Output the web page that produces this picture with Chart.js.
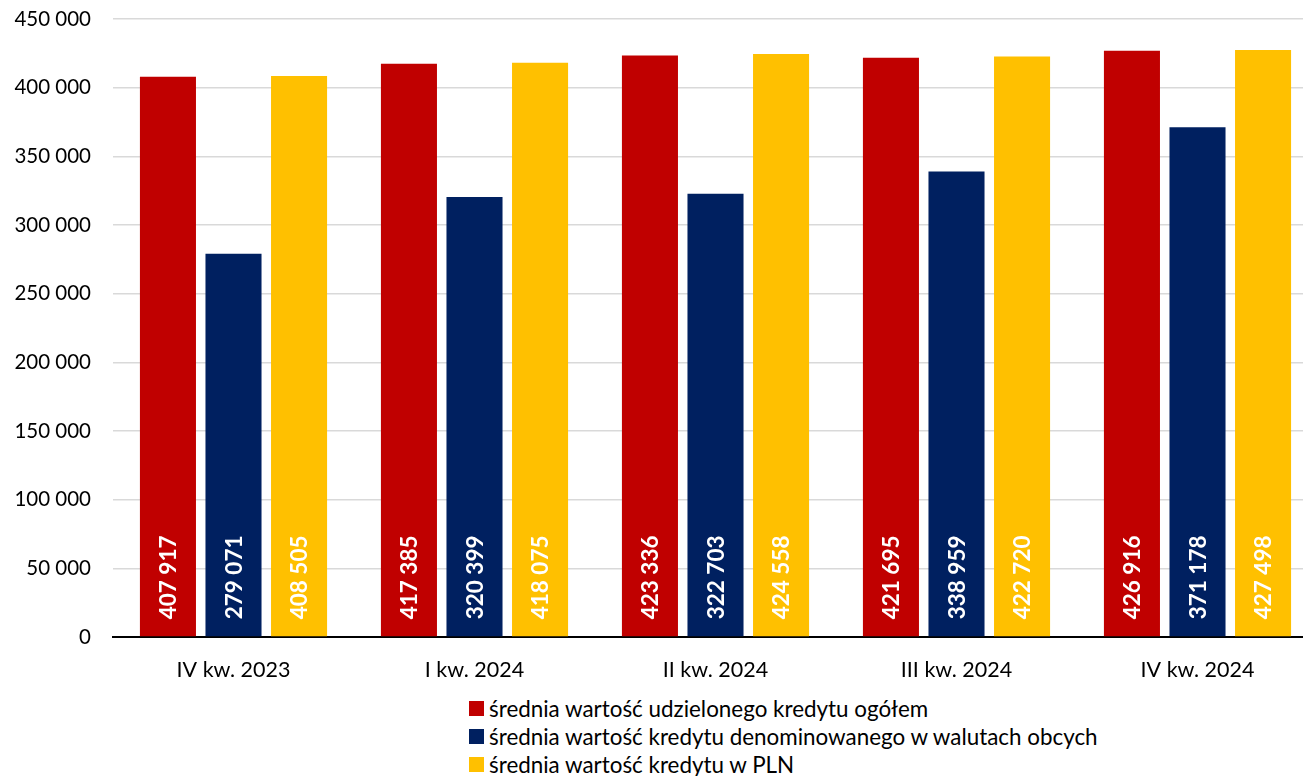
<!DOCTYPE html>
<html>
<head>
<meta charset="utf-8">
<script src="https://cdn.jsdelivr.net/npm/chart.js@4"></script>
<style>
  html, body { margin: 0; padding: 0; background: #fff; overflow: hidden; width: 1303px; height: 776px; }
  #wrap { position: relative; width: 1318px; height: 690px; }
  #legend { position: absolute; left: 469px; top: 694px; font-family: Lato, "Open Sans", sans-serif; font-size: 22.4px; color: #000; }
  #legend div { display: flex; align-items: center; height: 28px; white-space: nowrap; }
  #legend span.box { display: inline-block; width: 15px; height: 15px; margin-right: 5px; }
</style>
</head>
<body>
<div id="wrap"><canvas id="c"></canvas></div>
<div id="legend"></div>
<script>
const categories = ["IV kw. 2023", "I kw. 2024", "II kw. 2024", "III kw. 2024", "IV kw. 2024"];
const seriesNames = [
  "średnia wartość udzielonego kredytu ogółem",
  "średnia wartość kredytu denominowanego w walutach obcych",
  "średnia wartość kredytu w PLN"
];
const totalValues = [407917, 417385, 423336, 421695, 426916];
const foreignValues = [279071, 320399, 322703, 338959, 371178];
const plnValues = [408505, 418075, 424558, 422720, 427498];
const seriesColors = ["#C00000", "#002060", "#FFC000"];
const yMin = 0, yMax = 450000, yStep = 50000;

const fmt = v => String(Math.round(v)).replace(/\B(?=(\d{3})+(?!\d))/g, " ");
const FONT = "Lato, 'Open Sans', sans-serif";

const barLabels = {
  id: "barLabels",
  afterDatasetsDraw(chart) {
    const ctx = chart.ctx;
    ctx.save();
    ctx.fillStyle = "#fff";
    ctx.font = "bold 22.5px " + FONT;
    ctx.textAlign = "left";
    ctx.textBaseline = "middle";
    chart.data.datasets.forEach((ds, i) => {
      chart.getDatasetMeta(i).data.forEach((bar, j) => {
        ctx.save();
        ctx.translate(bar.x, bar.base - 17);
        ctx.rotate(-Math.PI / 2);
        ctx.fillText(fmt(ds.data[j]), 0, 1);
        ctx.restore();
      });
    });
    ctx.restore();
  }
};

const datasets = [totalValues, foreignValues, plnValues].map((d, i) => ({
  label: seriesNames[i],
  data: d,
  backgroundColor: seriesColors[i],
  borderWidth: 0,
  categoryPercentage: 0.816,
  barPercentage: 0.855
}));

new Chart(document.getElementById("c"), {
  type: "bar",
  data: { labels: categories, datasets },
  plugins: [barLabels],
  options: {
    responsive: true,
    maintainAspectRatio: false,
    animation: false,
    layout: { padding: { top: 19, right: 0, left: 0, bottom: 0 } },
    plugins: { legend: { display: false }, tooltip: { enabled: false } },
    scales: {
      x: {
        grid: { display: false, drawTicks: false },
        border: { color: "#000", width: 2 },
        ticks: { color: "#000", font: { family: FONT, size: 21.5 }, padding: 20 },
        afterFit(s) { s.height = 53; s.paddingTop = 0; }
      },
      y: {
        min: yMin, max: yMax,
        grid: { color: "#d9d9d9", lineWidth: 1.5, drawTicks: false },
        border: { display: false },
        ticks: {
          stepSize: yStep, color: "#000", padding: 22,
          font: { family: FONT, size: 20.5 },
          callback: v => fmt(v)
        },
        afterFit(s) { s.width = 113; s.paddingTop = 0; }
      }
    }
  }
});

const leg = document.getElementById("legend");
seriesNames.forEach((n, i) => {
  const row = document.createElement("div");
  const b = document.createElement("span");
  b.className = "box"; b.style.background = seriesColors[i];
  row.appendChild(b);
  row.appendChild(document.createTextNode(n));
  leg.appendChild(row);
});
</script>
</body>
</html>
